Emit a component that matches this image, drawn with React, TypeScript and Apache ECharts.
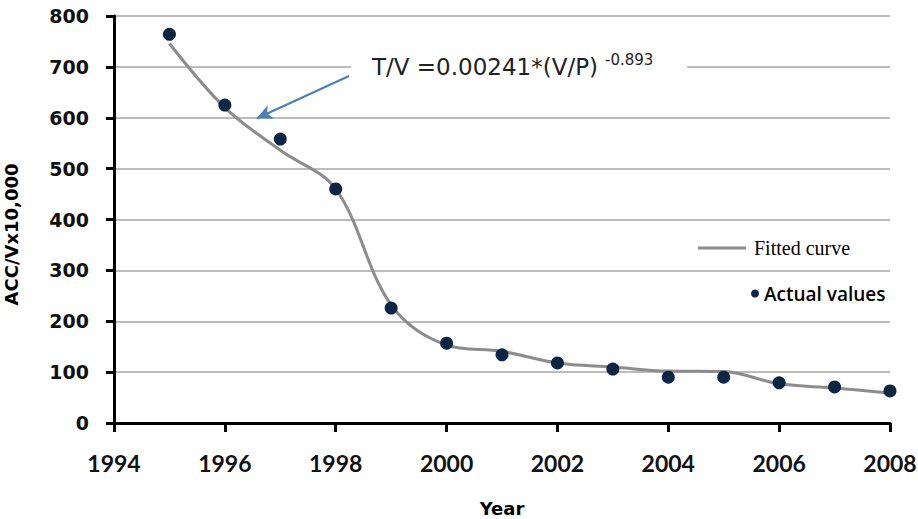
import React, { useEffect, useRef } from "react";
import * as echarts from "echarts";

const years = [1995, 1996, 1997, 1998, 1999, 2000, 2001, 2002, 2003, 2004, 2005, 2006, 2007, 2008];
const actualValues = [764, 625, 558, 460, 226, 157, 134, 118, 106, 90, 90, 79, 71, 63];
const fittedValues = [746, 620, 536, 460, 232, 153, 141, 118, 110, 102, 101, 77, 69, 59];
const formulaMain = "T/V =0.00241*(V/P)";
const formulaExp = "-0.893";
const arrowFrom = [1998.24, 682];
const arrowTo = [1996.58, 599];

export default function App() {
  const ref = useRef<HTMLDivElement>(null);
  useEffect(() => {
    if (!ref.current) return;
    const chart = echarts.init(ref.current, null, { renderer: "svg" });
    chart.setOption({
      animation: false,
      backgroundColor: "#ffffff",
      grid: { left: 114, right: 28, top: 16, bottom: 96, containLabel: false, outerBoundsMode: "none" },
      xAxis: {
        type: "value",
        min: 1994,
        max: 2008,
        interval: 2,
        name: "Year",
        nameLocation: "middle",
        nameGap: 76,
        nameTextStyle: { fontFamily: "DejaVu Sans", fontWeight: "bold", fontSize: 18, color: "#000" },
        axisLine: { show: true, onZero: false, lineStyle: { color: "#000", width: 3 } },
        axisTick: { show: true, length: 9, lineStyle: { color: "#000", width: 3 } },
        axisLabel: {
          formatter: (v: number) => String(v),
          margin: 28,
          fontFamily: "Lato",
          fontWeight: "bold",
          fontSize: 23,
          color: "#111",
        },
        splitLine: { show: false },
      },
      yAxis: {
        type: "value",
        min: 0,
        max: 800,
        interval: 100,
        name: "ACC/Vx10,000",
        nameLocation: "middle",
        nameGap: 94,
        nameTextStyle: { fontFamily: "DejaVu Sans", fontWeight: "bold", fontSize: 18, color: "#000", padding: [0, 30, 0, 0] },
        axisLine: { show: true, lineStyle: { color: "#000", width: 3 } },
        axisTick: { show: true, length: 8, lineStyle: { color: "#000", width: 3 } },
        axisLabel: {
          formatter: (v: number) => String(v),
          margin: 25,
          fontFamily: "DejaVu Sans",
          fontWeight: "bold",
          fontSize: 19,
          color: "#111",
        },
        splitLine: { show: true, lineStyle: { color: "#a6a6a6", width: 1.5 } },
      },
      legend: [
        {
          data: [{ name: "Fitted curve", icon: "rect" }],
          left: 693,
          top: 233,
          itemWidth: 48,
          itemHeight: 3,
          itemStyle: { color: "#8c8c8c" },
          textStyle: { fontFamily: "Liberation Serif", fontSize: 20, color: "#000", padding: [0, 0, 0, 3] },
        },
        {
          data: [{ name: "Actual values", icon: "circle" }],
          left: 746,
          top: 279,
          itemWidth: 8,
          itemHeight: 8,
          textStyle: { fontFamily: "Open Sans", fontWeight: 600, fontSize: 19, color: "#000", padding: [0, 0, 0, 0] },
        },
      ],
      series: [
        {
          name: "Fitted curve",
          type: "line",
          smooth: 0.35,
          symbol: "none",
          data: years.map((y, i) => [y, fittedValues[i]]),
          lineStyle: { color: "#8c8c8c", width: 3 },
          itemStyle: { color: "#8c8c8c" },
          z: 3,
          markLine: {
            silent: true,
            symbol: ["none", "arrow"],
            symbolSize: [11, 15],
            label: { show: false },
            lineStyle: { color: "#4a7ebb", width: 2, type: "solid" },
            data: [[{ coord: arrowFrom }, { coord: arrowTo }]],
          },
        },
        {
          name: "Actual values",
          type: "scatter",
          symbol: "circle",
          symbolSize: 13,
          data: years.map((y, i) => [y, actualValues[i]]),
          itemStyle: { color: "#0f2544", opacity: 1 },
          z: 4,
        },
      ],
      graphic: [
        {
          type: "rect",
          z: 100,
          shape: { x: 351, y: 58, width: 336, height: 18 },
          style: { fill: "#ffffff" },
        },
        {
          type: "text",
          z: 101,
          x: 372,
          y: 67,
          style: {
            text: formulaMain,
            fontFamily: "DejaVu Sans",
            fontSize: 23,
            fill: "#222",
            verticalAlign: "middle",
            align: "left",
          },
        },
        {
          type: "text",
          z: 101,
          x: 605,
          y: 60,
          style: {
            text: formulaExp,
            fontFamily: "DejaVu Sans",
            fontSize: 15,
            fill: "#222",
            verticalAlign: "middle",
            align: "left",
          },
        },
      ],
    });
    return () => chart.dispose();
  }, []);
  return (
    <div
      ref={ref}
      style={{ position: "fixed", left: 0, top: 0, width: 918, height: 519 }}
    />
  );
}
